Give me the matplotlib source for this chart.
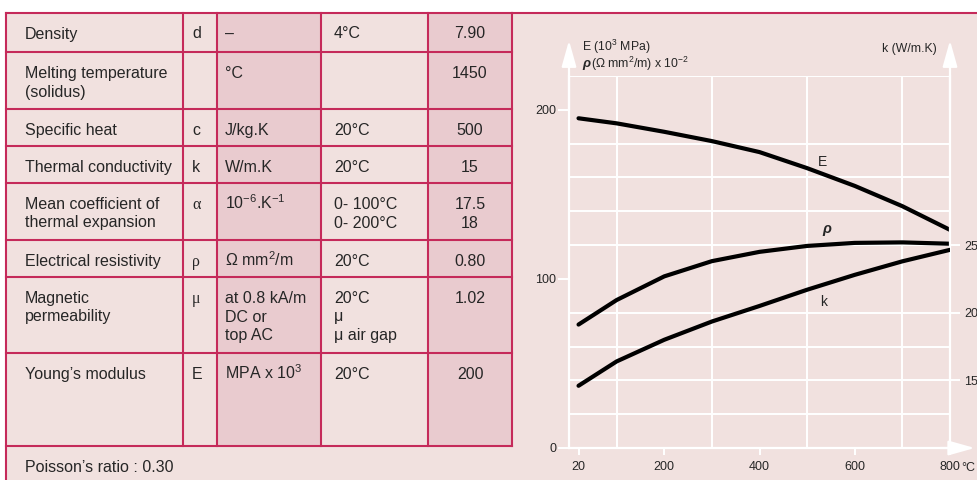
import matplotlib
matplotlib.use('Agg')
import matplotlib.pyplot as plt
from matplotlib.patches import Rectangle

plt.rcParams['font.family'] = ['Liberation Sans', 'DejaVu Sans']
plt.rcParams['mathtext.fontset'] = 'custom'
plt.rcParams['mathtext.rm'] = 'Liberation Sans'
plt.rcParams['mathtext.it'] = 'Liberation Sans:italic'
plt.rcParams['mathtext.bf'] = 'Liberation Sans:bold'

# table content
properties = ['Density', 'Melting temperature\n(solidus)', 'Specific heat', 'Thermal conductivity',
              'Mean coefficient of\nthermal expansion', 'Electrical resistivity',
              'Magnetic\npermeability', 'Young\u2019s modulus']
symbols = ['d', '', 'c', 'k', '\u03b1', '\u03c1', '\u03bc', 'E']
units = ['\u2013', '\u00b0C', 'J/kg.K', 'W/m.K', '10$^{-6}$.K$^{-1}$', '\u03a9 mm$^2$/m',
         'at 0.8 kA/m\nDC or\ntop AC', 'MPA x 10$^3$']
conditions = ['4\u00b0C', '', '20\u00b0C', '20\u00b0C', '0- 100\u00b0C\n0- 200\u00b0C', '20\u00b0C',
              '20\u00b0C\n\u03bc\n\u03bc air gap', '20\u00b0C']
values = ['7.90', '1450', '500', '15', '17.5\n18', '0.80', '1.02', '200']
footnote = 'Poisson\u2019s ratio : 0.30'

# curves
temps = [20, 100, 200, 300, 400, 500, 600, 700, 800]
young = [195, 192, 187, 181.5, 175, 165.5, 155, 143, 129]
resist = [73, 87.5, 101.5, 110.5, 116, 119.5, 121.3, 121.6, 120.8]
conduct = [14.6, 16.4, 18.0, 19.35, 20.5, 21.7, 22.8, 23.8, 24.65]

x_ticks = [20, 200, 400, 600, 800]
left_ticks = [0, 100, 200]
right_ticks = [15, 20, 25]

light = '#f1e1df'
dark = '#e9cbcf'
red = '#c52a5a'
ink = '#262626'

fig = plt.figure(figsize=(9.78, 4.8), dpi=100)
fig.patch.set_facecolor('white')

# ---- table drawn in pixel coordinates ----
bg = fig.add_axes([0, 0, 1, 1])
bg.set_xlim(0, 978)
bg.set_ylim(480, 0)
bg.axis('off')

row_edges = [12.5, 52, 109, 146, 183, 240, 277, 353, 446]
col_edges = [6, 183, 217, 321, 428, 512]

bg.add_patch(Rectangle((6, 12.5), 972, 470, facecolor=light, lw=0))
for c in (2, 4):
    bg.add_patch(Rectangle((col_edges[c], row_edges[0]), col_edges[c + 1] - col_edges[c],
                           row_edges[-1] - row_edges[0], facecolor=dark, lw=0))
for y in row_edges:
    bg.plot([6, 512], [y, y], color=red, lw=1.5, solid_capstyle='projecting')
bg.plot([512, 978], [12.5, 12.5], color=red, lw=1.5)
bg.plot([6, 6], [12.5, 480], color=red, lw=1.5)
for x in col_edges[1:]:
    bg.plot([x, x], [12.5, 446], color=red, lw=1.5)

fs = 11.5
line_h = 18.5


def cell_text(x, base, txt, ha='left', **kw):
    # one text per line so every line sits on its own baseline
    for j, line in enumerate(txt.split('\n')):
        bg.text(x, base + j * line_h, line, fontsize=fs, color=ink, va='baseline', ha=ha, **kw)


for i in range(len(properties)):
    base = row_edges[i] + 26
    cell_text(25, base, properties[i])
    if symbols[i] in ('\u03b1', '\u03c1', '\u03bc'):
        cell_text(192, base, symbols[i], family=['Liberation Serif', 'DejaVu Serif'])
    else:
        cell_text(192, base, symbols[i])
    cell_text(225, base, units[i])
    cell_text(334, base, conditions[i])
    cell_text(470, base, values[i], ha='center')
cell_text(25, 446 + 26, footnote)

# ---- chart ----
ax = fig.add_axes([569 / 978, 32 / 480, 381 / 978, 372 / 480])
ax.set_facecolor('none')
ax.set_xlim(0, 800)
ax.set_ylim(0, 220)
for s in ('top', 'right'):
    ax.spines[s].set_visible(False)
for s in ('left', 'bottom'):
    ax.spines[s].set_color('white')
    ax.spines[s].set_linewidth(1.6)

ax.set_xticks(x_ticks)
ax.set_xticks(range(100, 801, 100), minor=True)
ax.set_yticks(left_ticks)
ax.set_yticks(range(20, 221, 20), minor=True)
ax.grid(True, which='minor', color='white', lw=1.4)
ax.tick_params(which='minor', length=0)
ax.tick_params(axis='x', which='major', colors='white', length=5, width=1.4,
               labelcolor=ink, labelsize=9, pad=4)
ax.tick_params(axis='y', which='major', colors='white', length=8, width=1.4,
               labelcolor=ink, labelsize=9, pad=1)

ax.plot(temps, young, color='black', lw=3, solid_capstyle='round', zorder=5)
ax.plot(temps, resist, color='black', lw=3, solid_capstyle='round', zorder=5)

ax2 = ax.twinx()
ax2.set_ylim(10, 10 + 220 / 8)
for s in ('top', 'left', 'bottom'):
    ax2.spines[s].set_visible(False)
ax2.spines['right'].set_color('white')
ax2.spines['right'].set_linewidth(1.6)
ax2.set_yticks(right_ticks)
ax2.tick_params(axis='y', colors='white', length=7, width=1.4,
                labelcolor=ink, labelsize=9, pad=3)
ax2.plot(temps, conduct, color='black', lw=3, solid_capstyle='round', zorder=5)

arrow = dict(arrowstyle='-|>,head_length=1.6,head_width=0.45', color='white',
             lw=1.6, shrinkA=0, shrinkB=0, mutation_scale=10)
ax.annotate('', xy=(0, 241), xytext=(0, 200), arrowprops=arrow, annotation_clip=False)
ax.annotate('', xy=(800, 241), xytext=(800, 200), arrowprops=arrow, annotation_clip=False)
ax.annotate('', xy=(852, 0), xytext=(780, 0), arrowprops=arrow, annotation_clip=False)

ax.text(27, 237.5, 'E (10$^3$ MPa)', fontsize=8.8, color=ink, va='center', ha='left', clip_on=False)
ax.text(27, 227.3, '\u03c1', fontsize=9.5, color=ink, va='center', ha='left',
        fontweight='bold', style='italic', clip_on=False)
ax.text(47, 227.3, '(\u03a9 mm$^2$/m) x 10$^{-2}$', fontsize=8.8, color=ink, va='center',
        ha='left', clip_on=False)
ax.text(772, 236, 'k (W/m.K)', fontsize=8.8, color=ink, va='center', ha='right', clip_on=False)
ax.text(838, -12, '\u00b0C', fontsize=9, color=ink, va='center', ha='center', clip_on=False)

ax.text(533, 169, 'E', fontsize=10, color=ink, va='center', ha='center')
ax.text(542, 129.6, '\u03c1', fontsize=10.5, color=ink, va='center', ha='center',
        fontweight='bold', style='italic')
ax.text(535, 86.4, 'k', fontsize=10, color=ink, va='center', ha='center')

fig.savefig('out.png', dpi=100, facecolor=fig.get_facecolor())
